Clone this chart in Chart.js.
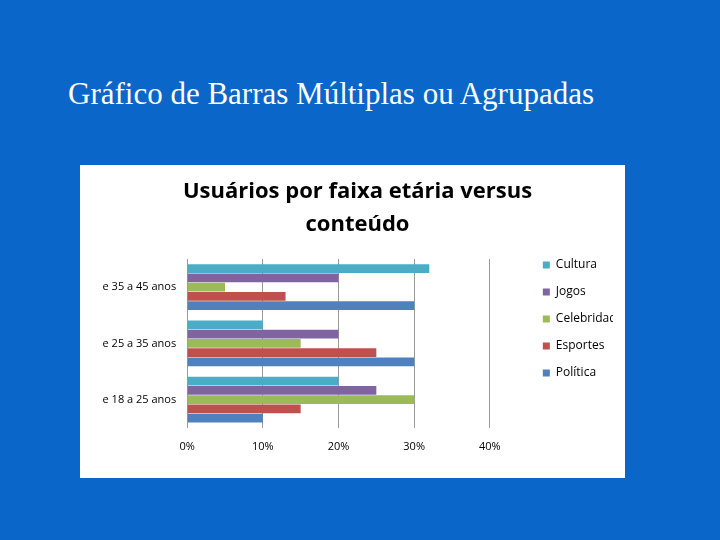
<!DOCTYPE html>
<html>
<head>
<meta charset="utf-8">
<script src="https://cdn.jsdelivr.net/npm/chart.js@4"></script>
<style>
  body { margin: 0; width: 720px; height: 540px; background: #0a66c8; overflow: hidden; }
  #title { position: absolute; left: 68px; top: 76px; color: #fff; white-space: nowrap;
    font-family: "Liberation Serif", serif; font-size: 31px; }
  #panel { position: absolute; left: 80px; top: 165px; width: 545px; height: 313px; background: #fff; }
</style>
</head>
<body>
<div id="title">Gráfico de Barras Múltiplas ou Agrupadas</div>
<div id="panel"><canvas id="chart" width="545" height="313"></canvas></div>
<script>
// Data
const categories = ['de 35 a 45 anos', 'de 25 a 35 anos', 'de 18 a 25 anos'];
const cultura = [32, 10, 20];
const jogos = [20, 20, 25];
const celebridades = [5, 15, 30];
const esportes = [13, 25, 15];
const politica = [30, 30, 10];
const ticks = [0, 10, 20, 30, 40];

const font = 'Open Sans';

function ds(label, data, color) {
  return { label: label, data: data, backgroundColor: color, borderColor: color,
    borderWidth: 0, barPercentage: 0.95, categoryPercentage: 0.82 };
}

new Chart(document.getElementById('chart'), {
  type: 'bar',
  data: {
    labels: categories,
    datasets: [
      ds('Cultura', cultura, '#4bacc6'),
      ds('Jogos', jogos, '#8064a2'),
      ds('Celebridades', celebridades, '#9bbb59'),
      ds('Esportes', esportes, '#c0504d'),
      ds('Política', politica, '#4f81bd')
    ]
  },
  options: {
    indexAxis: 'y',
    responsive: false,
    animation: false,
    layout: { padding: { left: 22, right: 12, top: 8, bottom: 13 } },
    plugins: {
      title: {
        display: true,
        text: ['Usuários por faixa etária versus', 'conteúdo'],
        color: '#000',
        font: { family: font, size: 22, weight: 'bold', lineHeight: 1.5 },
        padding: { top: 2, bottom: 18 }
      },
      legend: {
        position: 'right',
        labels: { color: '#000', boxWidth: 7, boxHeight: 7, padding: 15,
          font: { family: font, size: 12 } }
      },
      tooltip: { enabled: false }
    },
    scales: {
      x: {
        min: 0, max: 40,
        afterBuildTicks: (axis) => { axis.ticks = ticks.map(v => ({ value: v })); },
        ticks: { callback: v => v + '%', color: '#000', padding: 12, font: { family: font, size: 11 } },
        grid: { color: '#9a9a9a', drawTicks: false },
        border: { display: false }
      },
      y: {
        ticks: { color: '#000', font: { family: font, size: 11 } },
        grid: { display: false },
        border: { color: '#9a9a9a' }
      },
      // empty spacer between the plot and the legend
      spacer: {
        type: 'linear', axis: 'y', position: 'right',
        ticks: { display: false },
        grid: { display: false },
        border: { display: false },
        afterFit: (s) => { s.width = 38; }
      }
    }
  }
});
</script>
</body>
</html>
